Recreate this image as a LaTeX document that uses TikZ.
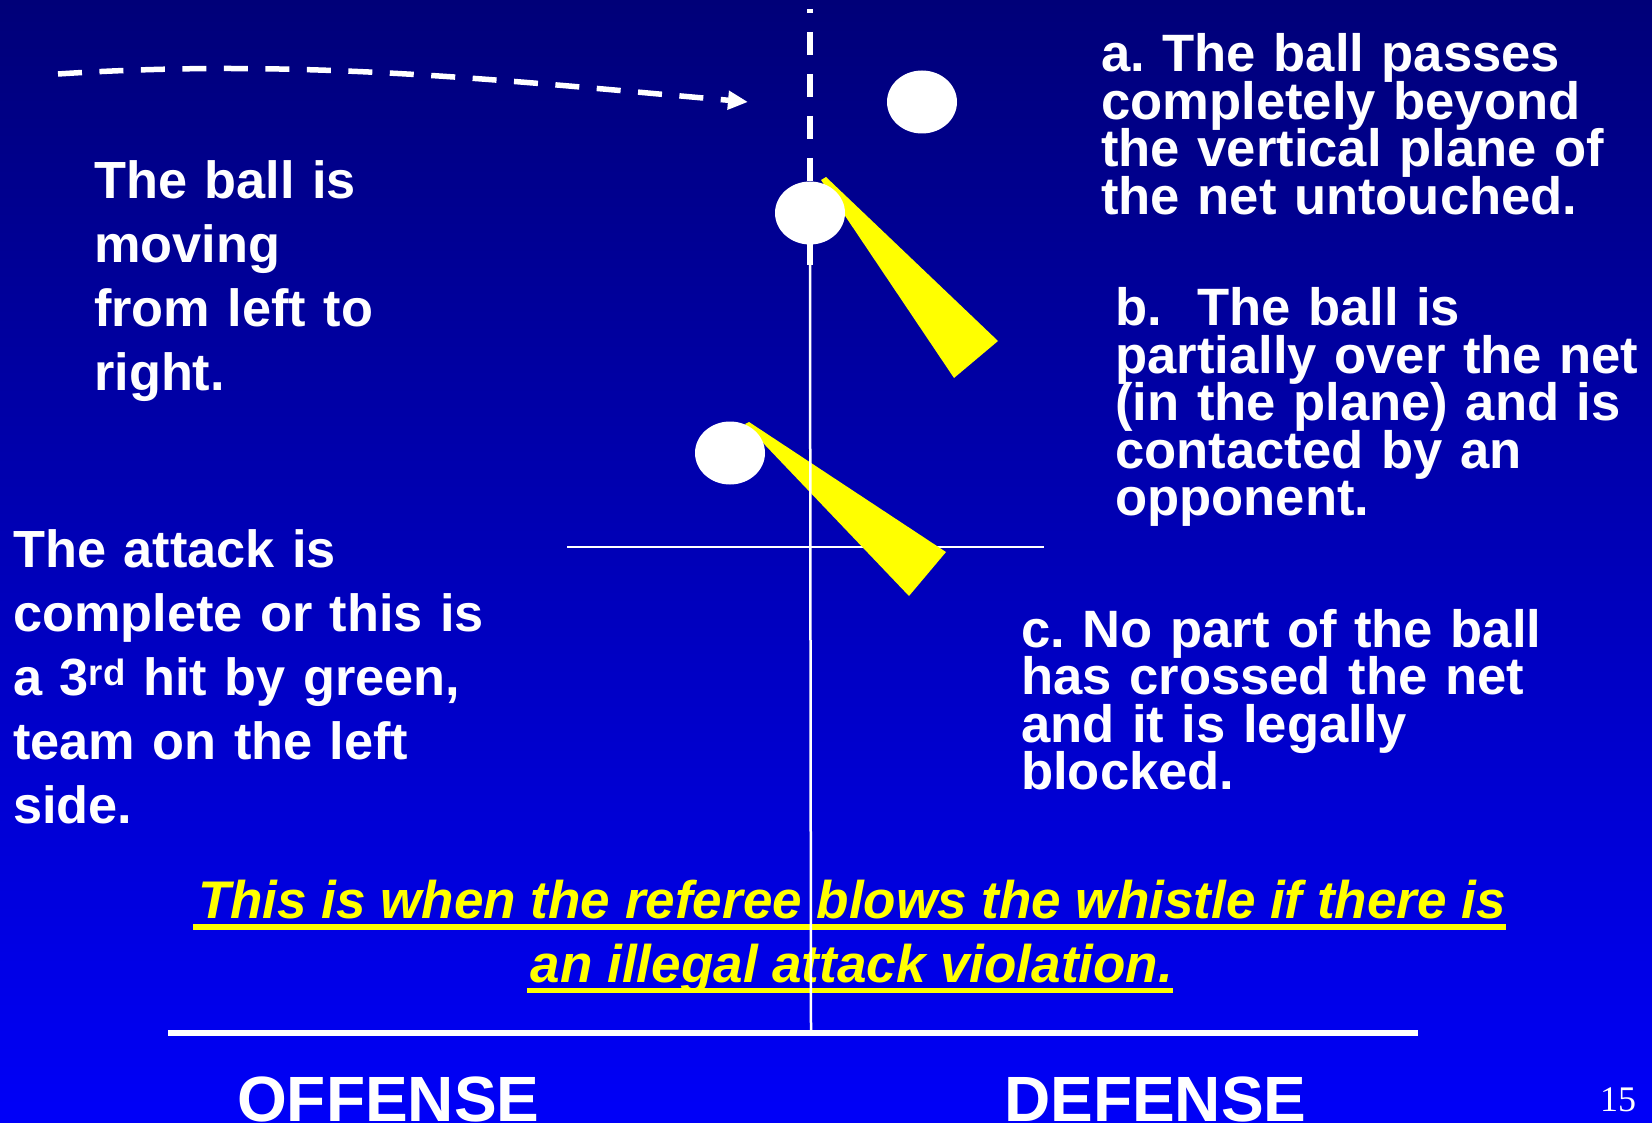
\documentclass[tikz,border=0pt]{standalone}
\usepackage{fontspec}
\setmainfont{Liberation Sans}
\newfontfamily\pagefont{Liberation Serif}
\usetikzlibrary{shapes.geometric,arrows.meta,calc}
\usepackage{xcolor}
\frenchspacing
\definecolor{NightBlue}{RGB}{0,0,120}
\definecolor{CourtBlue}{RGB}{0,0,248}
\definecolor{Flash}{RGB}{255,255,0}
\tikzset{
  notes/.style={anchor=base west,inner sep=0pt,text=white,text width=640pt,
                align=left,font=\bfseries\fontsize{52.3}{64}\selectfont},
  rulenote/.style={notes,font=\bfseries\fontsize{52.6}{47.5}\selectfont,
                   execute at begin node={\lineskiplimit=-60pt\relax}},
  sidelabel/.style={anchor=base west,inner sep=0pt,text=white,
                    font=\bfseries\fontsize{64}{70}\selectfont},
  whistle/.style={anchor=base,inner sep=0pt,text=Flash,
                  font=\bfseries\itshape\fontsize{53}{64}\selectfont},
  ball/.style={ellipse,fill=white,minimum width=70pt,minimum height=63pt,inner sep=0pt},
  blockhand/.style={fill=Flash},
  netdash/.style={white,line width=6pt,dash pattern=on 23pt off 19pt,dash phase=19pt},
  netline/.style={white,line width=2.5pt},
  flight/.style={white,line width=5.5pt,dash pattern=on 24pt off 17.5pt,
                 -{Triangle[length=20pt,width=18pt]}},
}

\begin{document}
\begin{tikzpicture}[x=1pt,y=-1pt]
  \useasboundingbox (0,0) rectangle (1652,1123);
  \shade[top color=NightBlue,bottom color=CourtBlue] (0,0) rectangle (1652,1123);

  \coordinate (nettop) at (810,9);
  \coordinate (netstub) at (810,265);
  \coordinate (netfoot) at (811,1030);
  \coordinate (barwest) at (567,547);
  \coordinate (bareast) at (1044,547);
  \coordinate (basewest) at (168,1033);
  \coordinate (baseeast) at (1418,1033);
  \coordinate (launch) at (58,74);
  \coordinate (arrowtip) at (748,102);

  \draw[netline] (barwest) -- (bareast);
  \fill[blockhand] (821,180) -- (826,177) -- (998,341) -- (954,378) -- cycle;
  \fill[blockhand] (745,424) -- (749,422) -- (946,552) -- (909,596) -- cycle;
  \draw[netdash] (nettop) -- (netstub);
  \draw[flight] (launch) .. controls (300,58) and (500,80) .. (arrowtip);

  \node[ball] (balla) at (922,102) {};
  \node[ball] (ballb) at (810,213) {};
  \node[ball] (ballc) at (730,453) {};

  \node[notes] (moving) at (94,199) {The ball is\\moving\\from left to\\right.};
  \node[notes] (attack) at (13,567)
    {The attack is\\complete or this is\\a 3\textsuperscript{rd} hit by green,\\team on the left\\side.};
  \node[rulenote] (rulea) at (1101,72)
    {a. The ball passes\\completely beyond\\the vertical plane of\\the net untouched.};
  \node[rulenote] (ruleb) at (1115,326)
    {b.\ \ The ball is\\partially over the net\\(in the plane) and is\\contacted by an\\opponent.};
  \node[rulenote] (rulec) at (1021,647)
    {c. No part of the ball\\has crossed the net\\and it is legally\\blocked.};

  \node[whistle] (whistlea) at (852,918) {This is when the referee blows the whistle if there is};
  \node[whistle] (whistleb) at (852,982) {an illegal attack violation.};
  \fill[Flash] ($(whistlea.base west)+(-5,6)$) rectangle ($(whistlea.base east)+(0,12)$);
  \fill[Flash] ($(whistleb.base west)+(-4,6)$) rectangle ($(whistleb.base east)+(0,11)$);

  \draw[netline] (netstub) -- (netfoot);
  \draw[white,line width=6pt] (basewest) -- (baseeast);

  \node[sidelabel] (offense) at (237,1121) {OFFENSE};
  \node[sidelabel] (defense) at (1004,1121) {DEFENSE};
  \node[anchor=base west,inner sep=0pt,text=white,font=\pagefont\fontsize{36}{40}\selectfont]
    (pagenum) at (1600,1111) {15};
\end{tikzpicture}
\end{document}
